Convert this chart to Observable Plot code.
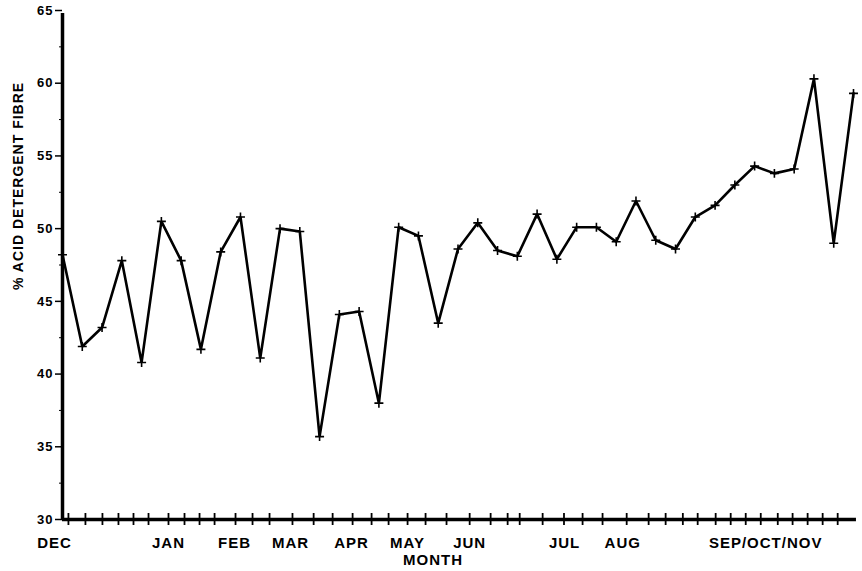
<!DOCTYPE html>
<html>
<head>
<meta charset="utf-8">
<script src="https://cdn.jsdelivr.net/npm/d3@7"></script>
<script src="https://cdn.jsdelivr.net/npm/@observablehq/plot@0.6"></script>
<style>
  html, body { margin: 0; padding: 0; background: #fff; }
  svg { display: block; }
</style>
</head>
<body>
<div id="chart"></div>
<script>
// % acid detergent fibre, one value per sample (sequential sample number)
const adfValues = [48.2, 41.9, 43.2, 47.8, 40.8, 50.5, 47.8, 41.7, 48.4, 50.8,
                   41.1, 50.0, 49.8, 35.7, 44.1, 44.3, 38.0, 50.1, 49.5, 43.5,
                   48.6, 50.4, 48.5, 48.1, 51.0, 47.9, 50.1, 50.1, 49.1, 51.9,
                   49.2, 48.6, 50.8, 51.6, 53.0, 54.3, 53.8, 54.1, 60.3, 49.0, 59.3];
const sampleIndex = adfValues.map((_, i) => i);

// month labels and where they sit along the sample axis
const monthLabels = ["DEC", "JAN", "FEB", "MAR", "APR", "MAY", "JUN", "JUL", "AUG", "SEP/OCT/NOV"];
const monthPositions = [-0.4, 5.36, 8.7, 11.53, 14.62, 17.45, 20.59, 25.39, 28.33, 35.56];

// x-axis tick marks (sampling dates) in sample-axis units
const xTickPositions = [0.3, 1.16, 2.02, 2.83, 3.59, 4.35, 5.36, 6.17, 6.93, 7.69, 8.75, 9.61,
                        10.47, 11.63, 12.7, 13.66, 14.67, 15.63, 16.49, 17.45, 18.36, 19.42,
                        20.59, 21.65, 22.51, 23.12, 24.28, 25.36, 26.3, 27.31, 28.53, 29.64,
                        30.5, 31.37, 32.12, 33.03, 33.79, 34.55, 35.31, 36.17, 36.92, 37.68,
                        38.44, 39.2];

const yMajorTicks = [30, 35, 40, 45, 50, 55, 60, 65];
const yMinorTicks = [32.5, 37.5, 42.5, 47.5, 52.5, 57.5, 62.5];
const yDomain = [30, 65];
const xDomain = [0, 40];
const xAxisEnd = 40.15;
const yTitle = "% ACID DETERGENT FIBRE";
const xTitle = "MONTH";

const data = sampleIndex.map(i => ({i, v: adfValues[i]}));

const chart = Plot.plot({
  width: 862,
  height: 571,
  marginLeft: 62,
  marginRight: 9,
  marginTop: 10,
  marginBottom: 52,
  style: {fontFamily: "Liberation Sans, Arial, sans-serif", color: "#000", background: "#fff", letterSpacing: "1px"},
  x: {domain: xDomain, axis: null},
  y: {domain: yDomain},
  marks: [
    // y axis: major ticks with labels
    Plot.axisY({
      ticks: yMajorTicks,
      tickSize: 7,
      tickPadding: 2,
      fontSize: 13,
      fontWeight: "bold",
      strokeWidth: 1.5,
      label: null
    }),
    // y axis minor ticks
    Plot.axisY({ticks: yMinorTicks, tickSize: 3, tickFormat: () => "", label: null}),
    // y axis title
    Plot.text([yTitle], {frameAnchor: "left", rotate: -90, dx: -44, dy: 25, fontSize: 14, fontWeight: "bold", fill: "#000", style: "letter-spacing:0.6px"}),
    // y axis line
    Plot.ruleX([0], {y1: yDomain[0], y2: yDomain[1], strokeWidth: 3.5, insetBottom: -3}),
    // x axis line
    Plot.ruleY([yDomain[0]], {x1: 0, x2: xAxisEnd, strokeWidth: 3.5, insetTop: -2, insetBottom: -2}),
    // x axis ticks crossing the line
    Plot.ruleX(xTickPositions, {x: d => d, y1: yDomain[0], y2: yDomain[0], insetTop: -6, insetBottom: -6, strokeWidth: 1.8}),
    // month labels
    Plot.text(monthLabels, {
      x: (d, i) => monthPositions[i],
      y: yDomain[0],
      dy: 24,
      fontSize: 15,
      fontWeight: "bold",
      fill: "#000"
    }),
    // x axis title
    Plot.text([xTitle], {frameAnchor: "bottom", dx: -25, dy: 45, fontSize: 15, fontWeight: "bold", fill: "#000"}),
    // data line
    Plot.line(data, {x: "i", y: "v", stroke: "#000", strokeWidth: 2.6, strokeLinejoin: "miter"}),
    Plot.dot(data, {x: "i", y: "v", symbol: "plus", r: 3, stroke: "#000", strokeWidth: 1.6})
  ]
});

document.getElementById("chart").appendChild(chart);
</script>
</body>
</html>
